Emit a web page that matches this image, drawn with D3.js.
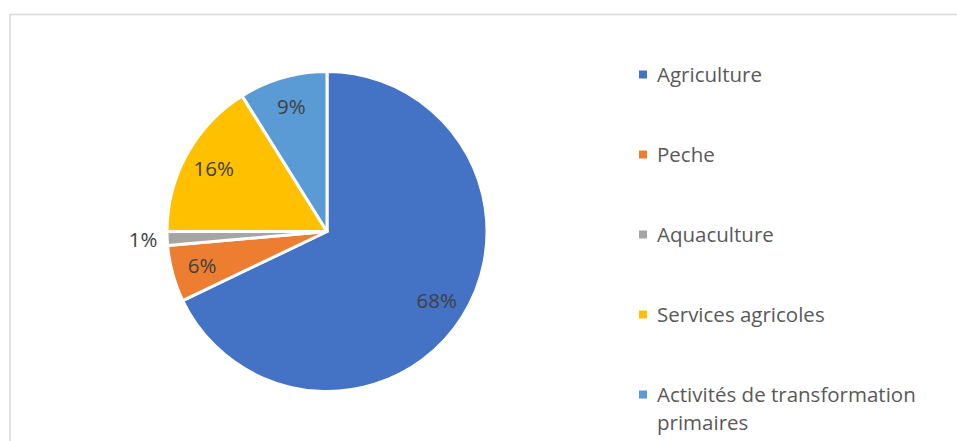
<!DOCTYPE html>
<html>
<head>
<meta charset="utf-8">
<title>Pie chart</title>
<script src="https://d3js.org/d3.v7.min.js"></script>
<style>
  body { margin: 0; background: #fff; }
  text { font-family: "Open Sans", "Noto Sans", sans-serif; }
</style>
</head>
<body>
<div id="chart"></div>
<script>

// データ
var categories = ["Agriculture", "Peche", "Aquaculture", "Services agricoles", "Activités de transformation primaires"];
var values = [67.9, 5.7, 1.4, 16.1, 8.9];
var colors = ["#4472C4", "#ED7D31", "#A5A5A5", "#FFC000", "#5B9BD5"];

var width = 957;
var height = 441;

// 円の位置と半径
var cx = 327, cy = 231.5, radius = 160;
var fontSize = 20.5;

var svg = d3.select("#chart")
  .append("svg")
  .attr("width", width)
  .attr("height", height);

// 枠線（右と下は画面外）
svg.append("rect")
  .attr("x", 10)
  .attr("y", 14.5)
  .attr("width", width + 20)
  .attr("height", height + 20)
  .attr("fill", "none")
  .attr("stroke", "#d9d9d9")
  .attr("stroke-width", 1.5);

var rows = categories.map(function(c, i) {
  return { name: c, value: values[i], color: colors[i] };
});

var pie = d3.pie()
  .sort(null)
  .value(d => d.value);

var arc = d3.arc()
  .innerRadius(0)
  .outerRadius(radius);

var labelArc = d3.arc()
  .innerRadius(radius * 0.81)
  .outerRadius(radius * 0.81);

var outerLabelArc = d3.arc()
  .innerRadius(radius * 1.15)
  .outerRadius(radius * 1.15);

var g = svg.append("g")
  .attr("transform", `translate(${cx}, ${cy})`);

var arcs = pie(rows);

g.selectAll("path")
  .data(arcs)
  .enter()
  .append("path")
  .attr("d", arc)
  .attr("fill", d => d.data.color)
  .attr("stroke", "#fff")
  .attr("stroke-width", 3)
  .attr("stroke-linejoin", "round");

// ラベル（小さい値は外側）
g.selectAll("text.lbl")
  .data(arcs)
  .enter()
  .append("text")
  .attr("class", "lbl")
  .attr("transform", function(d) {
    var c = d.data.value < 3 ? outerLabelArc.centroid(d) : labelArc.centroid(d);
    return `translate(${c[0]}, ${c[1] + 7})`;
  })
  .attr("text-anchor", "middle")
  .attr("font-size", fontSize)
  .attr("fill", "#404040")
  .text(d => Math.round(d.data.value) + "%");

// 凡例
var legendY = d3.scalePoint()
  .domain(categories)
  .range([82, 402]);

var legend = svg.selectAll("g.legend")
  .data(rows)
  .enter()
  .append("g")
  .attr("class", "legend")
  .attr("transform", d => `translate(639, ${legendY(d.name)})`);

legend.append("rect")
  .attr("x", 0)
  .attr("y", -11.5)
  .attr("width", 8)
  .attr("height", 8)
  .attr("fill", d => d.color);

legend.append("text")
  .attr("x", 18)
  .attr("y", 0)
  .attr("font-size", fontSize)
  .attr("fill", "#595959")
  .each(function(d) {
    var t = d3.select(this);
    // 長いラベルは2行に
    var lines = d.name.length > 30 ? ["Activités de transformation", "primaires"] : [d.name];
    lines.forEach(function(line, i) {
      t.append("tspan")
        .attr("x", 18)
        .attr("dy", i === 0 ? 0 : 28)
        .text(line);
    });
  });

</script>
</body>
</html>
